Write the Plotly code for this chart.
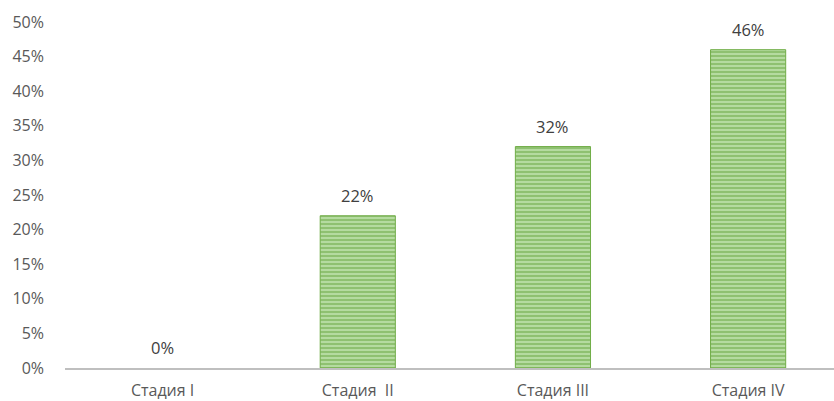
import plotly.graph_objects as go

categories = ["Стадия I", "Стадия\u00a0 II", "Стадия III", "Стадия IV"]
values = [0, 22, 32, 46]
tick_vals = [0, 5, 10, 15, 20, 25, 30, 35, 40, 45, 50]
tick_text = [f"{v}%" for v in tick_vals]
labels = [f"{v}%" for v in values]

fig = go.Figure()
fig.add_trace(go.Bar(
    x=categories, y=values,
    width=0.385,
    marker=dict(
        color="#a9d18e",
        line=dict(color="#70ad47", width=[0 if v == 0 else 1 for v in values]),
        pattern=dict(shape="-", size=4, solidity=0.5, fgcolor="#6aa842", bgcolor="#b5dba0", fillmode="overlay"),
    ),
))
for c, v, t in zip(categories, values, labels):
    fig.add_annotation(x=c, y=v, text=t, showarrow=False, yanchor="bottom", yshift=7,
                       font=dict(size=16.5, color="#404040"))
fig.update_layout(
    width=834, height=401,
    margin=dict(l=65, r=0, t=22, b=33),
    plot_bgcolor="white", paper_bgcolor="white",
    font=dict(family="Open Sans, Noto Sans, sans-serif", size=16, color="#595959"),
    showlegend=False,
)
fig.update_xaxes(range=[-0.5, 3.44], showgrid=False, showline=True, linecolor="#bfbfbf", linewidth=2,
                 ticks="", ticklabelstandoff=7, automargin=False, tickfont=dict(size=16, color="#595959"))
fig.update_yaxes(range=[0, 50], tickvals=tick_vals, ticktext=tick_text, showgrid=False,
                 zeroline=False, showline=False, ticks="", ticklabelstandoff=20, automargin=False,
                 tickfont=dict(size=16, color="#595959"))
fig.write_html("out.html")
